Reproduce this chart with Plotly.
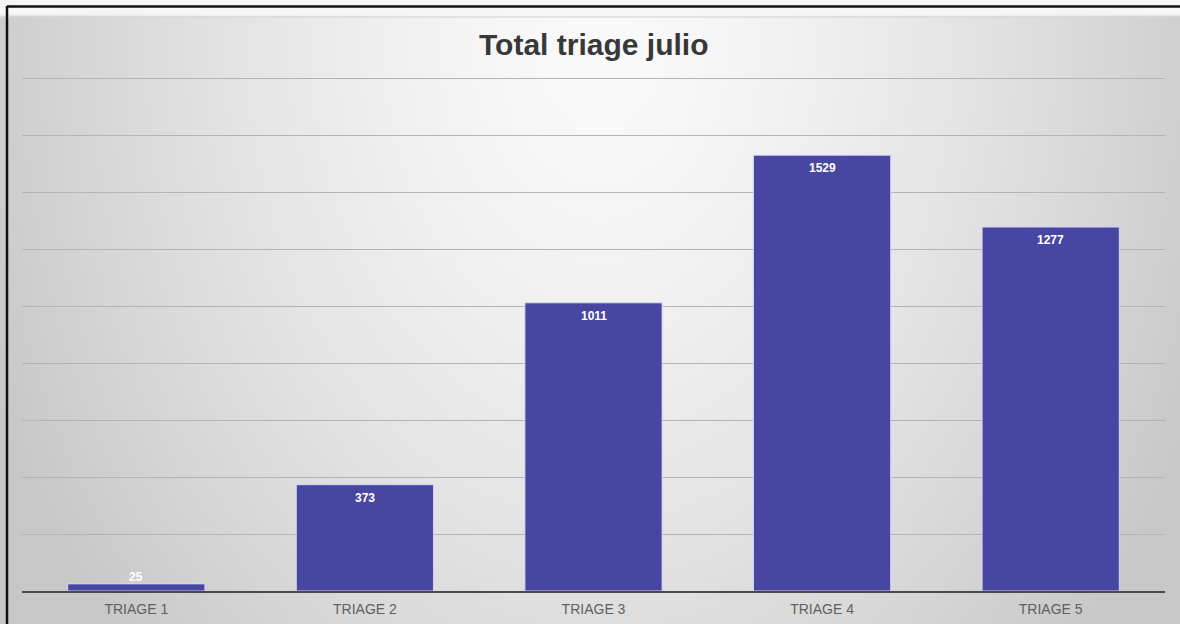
import base64
import math
import struct
import zlib

import plotly.graph_objects as go

# Datos del triage de julio
categorias = ["TRIAGE 1", "TRIAGE 2", "TRIAGE 3", "TRIAGE 4", "TRIAGE 5"]
totales = [25, 373, 1011, 1529, 1277]
y_max = 2000
y_paso = 200

W, H = 1180, 624
M_L, M_R, M_T, M_B = 22, 15, 21, 33
PW = W - M_L - M_R
PH = H - M_T - M_B


def png_gradiente(ancho, alto, escala):
    """Fondo gris con degradado radial, más claro arriba en el centro."""
    filas = []
    for j in range(alto):
        py = (j + 0.5) * escala
        fila = bytearray([0])
        for i in range(ancho):
            px = (i + 0.5) * escala
            if py < 17:
                v = 246
            else:
                d = math.sqrt(((px - 600) / 600) ** 2 + ((py - 50) / 800) ** 2)
                v = 250 - 44 * min(d, 1.1) ** 1.4
            v = int(max(0, min(255, v)))
            fila += bytes((v, v, v))
        filas.append(bytes(fila))
    crudo = b"".join(filas)

    def bloque(tipo, datos):
        c = struct.pack(">I", len(datos)) + tipo + datos
        return c + struct.pack(">I", zlib.crc32(tipo + datos) & 0xFFFFFFFF)

    ihdr = struct.pack(">IIBBBBB", ancho, alto, 8, 2, 0, 0, 0)
    png = b"\x89PNG\r\n\x1a\n" + bloque(b"IHDR", ihdr) + bloque(b"IDAT", zlib.compress(crudo, 9)) + bloque(b"IEND", b"")
    return "data:image/png;base64," + base64.b64encode(png).decode()


fondo = png_gradiente(W // 4, H // 4, 4)

fig = go.Figure(
    go.Bar(
        x=categorias,
        y=totales,
        marker=dict(color="#4747a1", line=dict(color="rgba(215,215,250,0.9)", width=1)),
        width=0.6,
        hoverinfo="x+y",
    )
)

# Etiquetas de valor: dentro de la barra, o encima si la barra es muy baja
for cat, val in zip(categorias, totales):
    fig.add_annotation(
        x=cat, y=val,
        text=f"<b>{val}</b>",
        showarrow=False,
        yanchor="middle",
        yshift=7 if val < 100 else -13,
        font=dict(family="Liberation Sans, Arial", size=12, color="white"),
    )


def px_x(px):
    return (px - M_L) / PW


def px_y(py):
    return (H - M_B - py) / PH


fig.add_layout_image(
    dict(
        source=fondo,
        xref="paper",
        yref="paper",
        x=px_x(0),
        y=px_y(0),
        sizex=W / PW,
        sizey=H / PH,
        xanchor="left",
        yanchor="top",
        sizing="stretch",
        layer="below",
    )
)

# Marco negro del gráfico
fig.add_shape(type="line", xref="paper", yref="paper",
              x0=px_x(7), x1=px_x(W + 2), y0=px_y(6.5), y1=px_y(6.5),
              line=dict(color="#111111", width=2.5))
fig.add_shape(type="line", xref="paper", yref="paper",
              x0=px_x(7), x1=px_x(7), y0=px_y(6), y1=px_y(H + 2),
              line=dict(color="#111111", width=2.5))
fig.add_shape(type="line", xref="paper", yref="paper",
              x0=px_x(8), x1=px_x(W + 2), y0=px_y(17), y1=px_y(17),
              line=dict(color="#cfcfcf", width=1))

fig.add_annotation(
    text="<b>Total triage julio</b>",
    xref="paper", yref="paper",
    x=0.5, y=px_y(44),
    xanchor="center", yanchor="middle",
    showarrow=False,
    font=dict(family="Liberation Sans, Arial", size=30, color="#383838"),
)

fig.update_layout(
    width=W,
    height=H,
    margin=dict(l=M_L, r=M_R, t=M_T, b=M_B, pad=0, autoexpand=False),
    paper_bgcolor="#d8d8d8",
    plot_bgcolor="rgba(0,0,0,0)",
    showlegend=False,
    bargap=0.4,
    xaxis=dict(
        automargin=False,
        showgrid=False,
        showline=True,
        linecolor="#4a4a4a",
        linewidth=1.5,
        ticks="",
        ticklabelstandoff=4,
        tickfont=dict(family="Liberation Sans, Arial", size=14, color="#606060"),
    ),
    yaxis=dict(
        automargin=False,
        range=[0, y_max],
        dtick=y_paso,
        showgrid=True,
        gridcolor="#b4b4b4",
        gridwidth=1,
        zeroline=False,
        showticklabels=False,
        showline=False,
    ),
)

fig.write_html("out.html")
